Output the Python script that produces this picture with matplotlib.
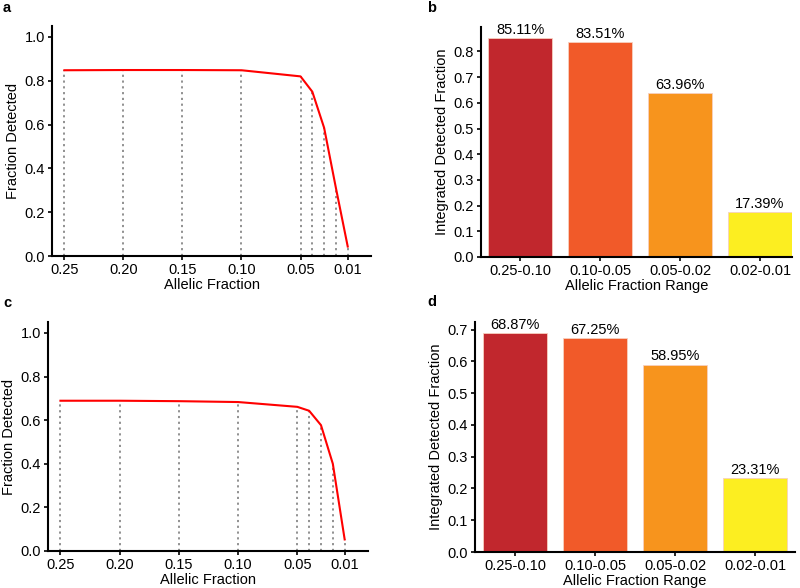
import numpy as np
import matplotlib.pyplot as plt

plt.rcParams['font.family'] = ['Liberation Sans', 'DejaVu Sans']
plt.rcParams['font.size'] = 10.5

af = [0.25, 0.20, 0.15, 0.10, 0.05, 0.04, 0.03, 0.02, 0.01]
det_a = [0.848, 0.849, 0.849, 0.848, 0.82, 0.75, 0.585, 0.31, 0.043]
det_c = [0.689, 0.689, 0.687, 0.683, 0.661, 0.643, 0.577, 0.40, 0.053]
af_ticks = [0.25, 0.20, 0.15, 0.10, 0.05, 0.01]

ranges = ['0.25-0.10', '0.10-0.05', '0.05-0.02', '0.02-0.01']
int_b = [0.8511, 0.8351, 0.6396, 0.1739]
int_d = [0.6887, 0.6725, 0.5895, 0.2331]
bar_colors = ['#c1272d', '#f15a29', '#f7941d', '#fcee21']

fig = plt.figure(figsize=(8, 5.88), dpi=100)


def style(ax):
    for s in ['top', 'right']:
        ax.spines[s].set_visible(False)
    for s in ['left', 'bottom']:
        ax.spines[s].set_linewidth(1.5)
    ax.tick_params(width=1.2, length=3, pad=2)


def line_panel(rect, y):
    ax = fig.add_axes(rect)
    ax.vlines(af, 0, y, colors='#888888', linestyles=(0, (1.2, 2.0)), linewidth=1.3)
    ax.plot(af, y, color='red', lw=1.5)
    ax.set_xlim(0.2605, -0.0097)
    ax.set_ylim(0, 1.05)
    ax.set_xticks(af_ticks)
    ax.set_xticklabels(['%.2f' % t for t in af_ticks])
    ax.set_yticks(np.arange(0, 1.01, 0.2))
    ax.set_xlabel('Allelic Fraction', labelpad=1)
    ax.set_ylabel('Fraction Detected', labelpad=3)
    style(ax)
    return ax


def bar_panel(rect, vals, ytop, yticks, xlim):
    ax = fig.add_axes(rect)
    x = np.arange(len(ranges))
    ax.bar(x, vals, width=0.8, color=bar_colors, edgecolor='#f7d0c0', linewidth=0.6)
    for xi, v in zip(x, vals):
        ax.text(xi, v + 0.004, '%.2f%%' % (v * 100), ha='center', va='bottom')
    ax.set_xticks(x)
    ax.set_xticklabels(ranges)
    ax.set_yticks(yticks)
    ax.set_ylim(0, ytop)
    ax.set_xlim(*xlim)
    ax.set_xlabel('Allelic Fraction Range', labelpad=1)
    ax.set_ylabel('Integrated Detected Fraction', labelpad=3)
    style(ax)
    return ax


W, H = 800, 588


def r(l, t, rt, b):
    return [l / W, 1 - b / H, (rt - l) / W, (b - t) / H]


line_panel(r(52, 26, 371, 256), det_a)
line_panel(r(48, 322, 368, 551), det_c)
bar_panel(r(481, 27, 792, 257), int_b, 0.895, np.arange(0, 0.81, 0.1), (-0.49, 3.4))
bar_panel(r(475, 322, 795, 552), int_d, 0.724, np.arange(0, 0.71, 0.1), (-0.5, 3.5))

for lab, x, y in [('a', 3, 8), ('b', 427, 8), ('c', 3, 303), ('d', 427, 302)]:
    fig.text(x / W, 1 - y / H, lab, fontweight='bold', fontsize=10.5, va='center')

fig.savefig('out.png', dpi=100)
